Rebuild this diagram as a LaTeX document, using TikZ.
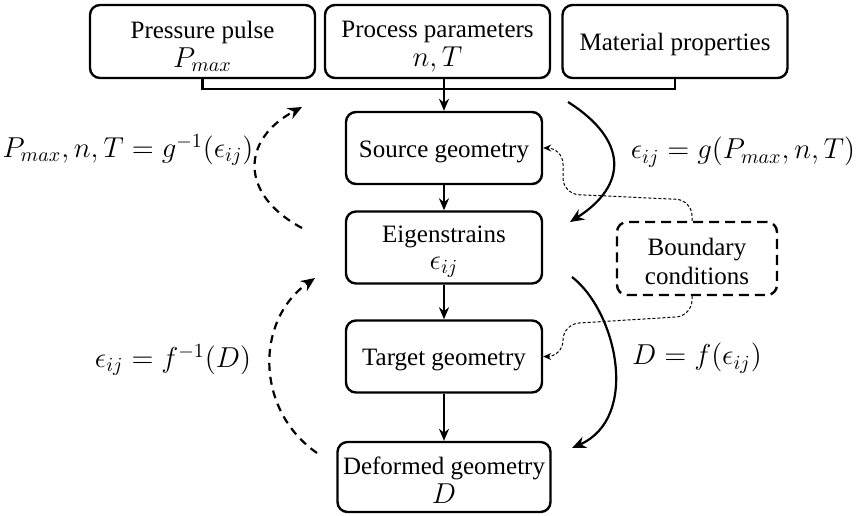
\documentclass[tikz,border=0pt]{standalone}
\usepackage[no-math]{fontspec}
\setmainfont{Liberation Serif}
\newfontfamily\boxfont{Liberation Serif}
\usetikzlibrary{arrows.meta}
\newcommand\txtsize{\boxfont\fontsize{12.5}{14.8}\selectfont\lineskip=1.5pt}
\newcommand\mathsize{\fontsize{14.5}{14.8}\selectfont}
\newcommand\labsize{\fontsize{14.5}{17}\selectfont}
\begin{document}
\begin{tikzpicture}[x=0.5pt,y=-0.5pt,
  box/.style={draw, line width=1.2pt, rounded corners=5pt, align=center,
    inner sep=2pt, text height=12pt, font=\txtsize},
  topbox/.style={box, minimum width=112.5pt, minimum height=36.5pt},
  colbox/.style={box, minimum width=98pt, minimum height=36pt},
  bcbox/.style={box, dash pattern=on 5pt off 3pt, minimum width=80pt, minimum height=36.5pt},
  flow/.style={line width=1.1pt, -{Stealth[length=6pt,width=5pt]}},
  loopfwd/.style={line width=1.1pt, -{Stealth[length=7pt,width=6pt]}},
  loopinv/.style={loopfwd, dash pattern=on 4pt off 3pt},
  bcline/.style={line width=0.5pt, dash pattern=on 1.5pt off 1pt,
    -{Stealth[length=4pt,width=3.5pt]}, rounded corners=8pt},
  lab/.style={font=\labsize, inner sep=0pt}]
\useasboundingbox (0,0) rectangle (856,515);

% input boxes
\node[topbox, text height=28.3pt] (pp) at (202.5,41.5) {Pressure pulse\\{\mathsize$P_{max}$}};
\node[topbox, text height=28.1pt] (pr) at (437.5,41.5) {Process parameters\\{\mathsize$n,T$}};
\node[topbox] (mp) at (675,41.5) {Material properties};

% main chain
\node[colbox] (src) at (444,148) {Source geometry};
\node[colbox, text height=25.8pt] (eig) at (444,247.5) {Eigenstrains\\[-1.5pt]{\mathsize$\epsilon_{ij}$}};
\node[colbox] (tgt) at (444,356.5) {Target geometry};
\node[box, text height=26.3pt, minimum width=106.5pt, minimum height=35pt] (def) at (444,477) {Deformed geometry\\[-0.5pt]{\mathsize$D$}};

\node[bcbox, text height=26.3pt] (bc) at (697,258.5) {Boundary\\conditions};

% collecting bus from the inputs
\coordinate (bus) at (444,89);
\draw[line width=1.1pt] (pp.south) -- (pp.south |- bus) -- (mp.south |- bus) -- (mp.south);
\draw[flow] (src.north |- pr.south) -- (src.north);
\draw[flow] (src) -- (eig);
\draw[flow] (eig) -- (tgt);
\draw[flow] (tgt) -- (def);

% forward maps
\coordinate (g0) at (568,102);
\coordinate (g1) at (570,222);
\draw[loopfwd] (g0) .. controls (628,140) and (628,185) .. (g1);
\coordinate (f0) at (572,277);
\coordinate (f1) at (572,448);
\draw[loopfwd] (f0) .. controls (617,312) and (640,418) .. (f1);

% inverse maps
\coordinate (gi0) at (302,228);
\coordinate (gi1) at (302,107);
\draw[loopinv] (gi0) .. controls (240,195) and (240,140) .. (gi1);
\coordinate (fi0) at (317,453);
\coordinate (fi1) at (315,278);
\draw[loopinv] (fi0) .. controls (255,410) and (255,320) .. (fi1);

% labels
\node[lab] (lg) at (743,152) {$\epsilon_{ij} = g(P_{max}, n, T)$};
\node[lab] (lf) at (697,358) {$D = f(\epsilon_{ij})$};
\node[lab] (lgi) at (128,150) {$P_{max}, n, T = g^{-1}(\epsilon_{ij})$};
\node[lab] (lfi) at (173,360) {$\epsilon_{ij} = f^{-1}(D)$};

% boundary conditions feed
\draw[bcline] ([xshift=-2.5pt]bc.north) -- (692,200) -- (563,194) -- (563,148) -- (src.east);
\draw[bcline] ([xshift=-2.5pt]bc.south) -- (692,316) -- (563,324) -- (563,356.5) -- (tgt.east);
\end{tikzpicture}
\end{document}
